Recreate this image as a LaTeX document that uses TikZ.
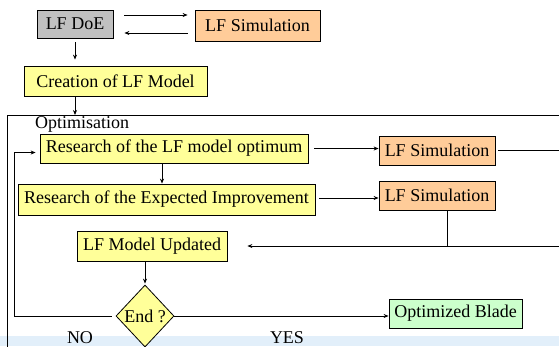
\documentclass[tikz,border=0pt]{standalone}
\usepackage{fontspec}
\setmainfont{Liberation Serif}
\usepackage{xcolor}
\usetikzlibrary{arrows.meta,shapes.geometric}
\definecolor{doegray}{RGB}{192,192,192}
\definecolor{simorange}{RGB}{255,204,153}
\definecolor{stepyellow}{RGB}{255,255,153}
\definecolor{bladegreen}{RGB}{204,255,204}
\definecolor{stripblue}{RGB}{226,239,250}
\tikzset{
  bx/.style={draw,line width=0.8pt,inner sep=0pt,font=\fontsize{18}{21}\selectfont},
  doe/.style={bx,fill=doegray},
  sim/.style={bx,fill=simorange,minimum width=116pt,minimum height=29pt},
  stp/.style={bx,fill=stepyellow},
  dec/.style={bx,diamond,fill=stepyellow,minimum width=58pt,minimum height=62pt},
  fin/.style={bx,fill=bladegreen},
  ar/.style={line width=0.8pt,-{Stealth[length=5pt,width=4pt]}},
  ln/.style={line width=0.8pt},
  lbl/.style={inner sep=0pt,font=\fontsize{18}{21}\selectfont}
}

\begin{document}
\begin{tikzpicture}[x=1pt,y=-1pt]
\clip (0,0) rectangle (559,346);
\fill[stripblue] (0,336) rectangle (559,346);
\draw[ln] (7,115) rectangle (580,400);
\coordinate (frametl) at (7,115);
\coordinate (rturn) at (575,0);
\coordinate (loopx) at (14,0);

\node[doe,minimum width=76pt,minimum height=28pt] (doe) at (75,24) {LF DoE};
\node[sim,minimum width=125pt,minimum height=31pt] (simtop) at (257.5,25.5) {LF Simulation};
\node[stp,minimum width=183pt,minimum height=30pt] (create) at (115.5,81) {Creation of LF Model};
\node[lbl,anchor=base west] (optlbl) at (35,128) {Optimisation};
\node[stp,minimum width=268pt,minimum height=29pt] (optim) at (174,148.5) {Research of the LF model optimum};
\node[sim] (simA) at (437,150.5) {LF Simulation};
\node[stp,minimum width=297pt,minimum height=31pt] (expimp) at (166.5,199.5) {Research of the Expected Improvement};
\node[sim] (simB) at (437,195.5) {LF Simulation};
\node[stp,minimum width=150pt,minimum height=30pt] (upd) at (152,246) {LF Model Updated};
\node[dec] (endq) at (145,316) {End ?};
\node[fin,minimum width=133pt,minimum height=29pt] (blade) at (455.5,313.5) {Optimized Blade};
\node[lbl,anchor=base] (no) at (80,343) {NO};
\node[lbl,anchor=base] (yes) at (287,343) {YES};

\draw[ar,shorten <=11pt,shorten >=7pt] ([yshift=9pt]doe.east) -- ([yshift=9pt]doe.east -| simtop.west);
\draw[ar,shorten <=7pt,shorten >=11pt] ([yshift=-9pt]doe.east -| simtop.west) -- ([yshift=-9pt]doe.east);
\draw[ar,shorten <=4pt,shorten >=6pt] (doe.south) -- (doe.south |- create.north);
\draw[ar] (doe.south |- create.south) -- (doe.south |- frametl);
\draw[ar,shorten <=6pt] (optim.east) -- (optim.east -| simA.west);
\draw[ar,shorten <=3pt,shorten >=20pt] (simA.east) -- (simA.east -| rturn) |- (upd.east);
\draw[ln] ([xshift=10pt]simB.south) -- ([xshift=10pt]simB.south |- upd.east);
\draw[ar] ([xshift=-12pt]optim.south) -- ([xshift=-12pt]optim.south |- expimp.north);
\draw[ar,shorten <=4pt] ([yshift=1.5pt]expimp.east) -- ([yshift=1.5pt]expimp.east -| simB.west);
\draw[ar,shorten >=1pt] (endq.north |- upd.south) -- (endq.north);
\draw[ar,shorten <=4pt,shorten >=4pt] (endq.west) -| ([yshift=-4pt]optim.west -| loopx) -- ([yshift=-4pt]optim.west);
\draw[ar] (endq.east) -- (endq.east -| blade.west);
\end{tikzpicture}
\end{document}
